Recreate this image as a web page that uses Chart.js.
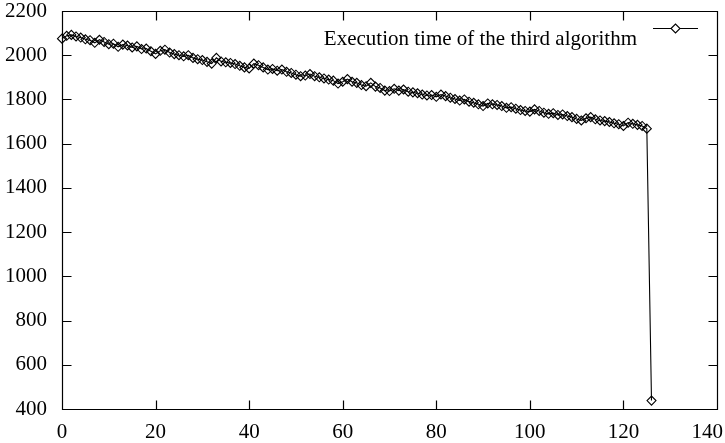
<!DOCTYPE html>
<html><head><meta charset="utf-8">
<script src="https://cdn.jsdelivr.net/npm/chart.js@4/dist/chart.umd.min.js"></script>
<style>html,body{margin:0;padding:0;background:#fff;}#wrap{width:725px;height:443px;}</style>
</head><body><div id="wrap"><canvas id="c" width="725" height="443"></canvas></div>
<script>
const seriesLabel = 'Execution time of the third algorithm';
const executionTime = [
  2075, 2088, 2092, 2085, 2080, 2072, 2068, 2056, 2070, 2060,
  2050, 2052, 2038, 2048, 2044, 2035, 2040, 2028, 2030, 2018,
  2006, 2020, 2025, 2012, 2005, 2000, 1995, 2000, 1988, 1982,
  1978, 1970, 1962, 1988, 1972, 1968, 1965, 1960, 1952, 1945,
  1940, 1962, 1955, 1945, 1935, 1938, 1930, 1935, 1925, 1920,
  1912, 1905, 1908, 1915, 1905, 1900, 1895, 1890, 1885, 1872,
  1880, 1892, 1880, 1875, 1865, 1860, 1875, 1858, 1852, 1840,
  1838, 1848, 1840, 1845, 1835, 1832, 1828, 1822, 1818, 1820,
  1812, 1822, 1815, 1808, 1802, 1795, 1800, 1790, 1785, 1778,
  1770, 1782, 1778, 1775, 1770, 1762, 1765, 1758, 1752, 1748,
  1745, 1755, 1748, 1740, 1735, 1738, 1730, 1732, 1725, 1720,
  1712, 1705, 1715, 1720, 1710, 1705, 1702, 1698, 1692, 1688,
  1680, 1695, 1690, 1685, 1680, 1668, 438
];
const runIndex = executionTime.map((_, i) => i);
const xTicks = [0, 20, 40, 60, 80, 100, 120, 140];
const yTicks = [400, 600, 800, 1000, 1200, 1400, 1600, 1800, 2000, 2200];

const FONT = '"Liberation Serif", "Times New Roman", Times, serif';
const FS = 21;

const gnuFrame = {
  id: 'gnuFrame',
  beforeDatasetsDraw(chart) {
    const {ctx, chartArea: a, scales: {x, y}} = chart;
    ctx.save();
    ctx.strokeStyle = '#000';
    ctx.lineWidth = 1.2;
    const L = Math.round(a.left) + 0.5, R = Math.round(a.right) + 0.5;
    const T = Math.round(a.top) + 0.5, B = Math.round(a.bottom) + 0.5;
    ctx.beginPath();
    ctx.rect(L, T, R - L, B - T);
    const tl = 9;
    xTicks.forEach(v => {
      const px = Math.round(x.getPixelForValue(v)) + 0.5;
      ctx.moveTo(px, B); ctx.lineTo(px, B - tl);
      ctx.moveTo(px, T); ctx.lineTo(px, T + tl);
    });
    yTicks.forEach(v => {
      const py = Math.round(y.getPixelForValue(v)) + 0.5;
      ctx.moveTo(L, py); ctx.lineTo(L + tl, py);
      ctx.moveTo(R, py); ctx.lineTo(R - tl, py);
    });
    ctx.stroke();
    // x tick labels
    ctx.fillStyle = '#000';
    ctx.font = FS + 'px ' + FONT;
    ctx.textBaseline = 'alphabetic';
    ctx.textAlign = 'left';
    xTicks.forEach(v => {
      const t = String(v);
      const w = ctx.measureText(t).width;
      let left = x.getPixelForValue(v) - w / 2;
      if (left + w > chart.width - 2) left = chart.width - 2 - w;
      ctx.fillText(t, left, 438);
    });
    // legend
    ctx.textAlign = 'right';
    ctx.fillText(seriesLabel, 637, 45);
    ctx.lineWidth = 1.1;
    ctx.beginPath();
    ctx.moveTo(653, 28.5); ctx.lineTo(698, 28.5);
    ctx.stroke();
    const cx = 675.5, cy = 28.5, r = 4.5;
    ctx.beginPath();
    ctx.moveTo(cx - r, cy); ctx.lineTo(cx, cy - r); ctx.lineTo(cx + r, cy); ctx.lineTo(cx, cy + r); ctx.closePath();
    ctx.fillStyle = '#fff';
    ctx.fill();
    ctx.stroke();
    ctx.restore();
  }
};

new Chart(document.getElementById('c'), {
  type: 'line',
  data: {
    datasets: [{
      label: seriesLabel,
      data: runIndex.map((xi, i) => ({x: xi, y: executionTime[i]})),
      borderColor: '#000',
      borderWidth: 1.1,
      pointStyle: 'rectRot',
      pointRadius: 4.5,
      pointBorderWidth: 1.1,
      pointBorderColor: '#000',
      pointBackgroundColor: 'rgba(255,255,255,0)',
      tension: 0,
      clip: false
    }]
  },
  options: {
    responsive: false,
    animation: false,
    events: [],
    layout: {padding: {top: 11, right: 8, left: 0, bottom: 0}},
    plugins: {legend: {display: false}, tooltip: {enabled: false}},
    scales: {
      x: {
        type: 'linear', min: 0, max: 140,
        ticks: {display: false, stepSize: 20},
        grid: {display: false, drawTicks: false},
        border: {display: false},
        afterFit(s) { s.height = 34; s.paddingLeft = 0; s.paddingRight = 0; }
      },
      y: {
        type: 'linear', min: 400, max: 2200,
        ticks: {stepSize: 200, padding: 15, color: '#000', font: {family: FONT, size: FS},
                callback: v => String(v)},
        grid: {display: false, drawTicks: false},
        border: {display: false},
        afterFit(s) { s.width = 62; s.paddingTop = 0; s.paddingBottom = 0; }
      }
    }
  },
  plugins: [gnuFrame]
});
</script>
</body></html>
